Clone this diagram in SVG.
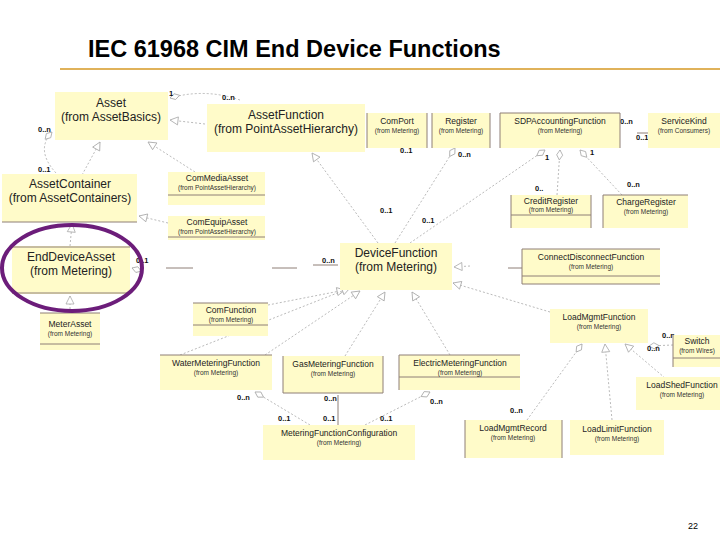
<svg xmlns="http://www.w3.org/2000/svg" width="720" height="540" viewBox="0 0 720 540">
<defs>
<style>
.bx{fill:#FFFBC9;stroke:none}
.ln{stroke:#8E7F76;stroke-width:1;fill:none}
.dl{stroke:#A8A8A8;stroke-width:0.8;stroke-dasharray:2,2;fill:none}
.sl{stroke:#8E7F76;stroke-width:1;fill:none}
.t1{font-family:"Liberation Sans",Arial,sans-serif;font-size:12px;fill:#222;text-anchor:middle}
.t2{font-family:"Liberation Sans",Arial,sans-serif;font-size:8.5px;fill:#222;text-anchor:middle}
.t3{font-family:"Liberation Sans",Arial,sans-serif;font-size:6.5px;fill:#333;text-anchor:middle}
.m{font-family:"Liberation Sans",Arial,sans-serif;font-size:7.5px;fill:#111;font-weight:bold}
</style>
<marker id="tri" markerWidth="10" markerHeight="10" refX="9" refY="5" orient="auto" markerUnits="userSpaceOnUse">
<path d="M1,1 L9,5 L1,9 Z" fill="#fff" stroke="#A8A8A8" stroke-width="0.8"/>
</marker>
<marker id="dia" markerWidth="12" markerHeight="8" refX="11" refY="4" orient="auto" markerUnits="userSpaceOnUse">
<path d="M1,4 L6,1 L11,4 L6,7 Z" fill="#fff" stroke="#A8A8A8" stroke-width="0.8"/>
</marker>
</defs>
<rect width="720" height="540" fill="#fff"/>
<text x="88" y="57" font-family="Liberation Sans,Arial,sans-serif" font-size="23.5" font-weight="bold" fill="#000">IEC 61968 CIM End Device Functions</text>
<line x1="60" y1="69" x2="720" y2="69" stroke="#E0B25A" stroke-width="2"/>

<g id="connectors">
<path class="dl" d="M240,100 Q205,88 170,98" marker-end="url(#dia)"/>
<path class="dl" d="M205,124 L170,120" marker-end="url(#tri)"/>
<path class="dl" d="M56,173 Q35,150 52,132" marker-end="url(#dia)"/>
<path class="dl" d="M82,175 L100,142" marker-end="url(#tri)"/>
<path class="dl" d="M195,172 L148,142" marker-end="url(#tri)"/>
<path class="dl" d="M168,223 L139,216" marker-end="url(#tri)"/>
<path class="dl" d="M70,246 L72,224" marker-end="url(#tri)"/>
<path class="dl" d="M70,313 L70,296" marker-end="url(#tri)"/>
<path class="dl" d="M138,270 L132,268" marker-end="url(#dia)"/>
<line class="sl" x1="166" y1="268" x2="193" y2="268"/>
<line class="sl" x1="272" y1="268" x2="297" y2="268"/>
<line class="sl" x1="313" y1="265" x2="338" y2="265"/>
<path class="dl" d="M378,243 L312,153" marker-end="url(#tri)"/>
<path class="dl" d="M395,243 L455,148" marker-end="url(#dia)"/>
<path class="dl" d="M410,243 L545,150" marker-end="url(#dia)"/>
<path class="dl" d="M557,195 L560,150" marker-end="url(#dia)"/>
<path class="dl" d="M622,195 L580,150" marker-end="url(#dia)"/>
<line class="sl" x1="637" y1="133" x2="648" y2="133"/>
<line class="sl" x1="508" y1="268" x2="522" y2="268"/>
<path class="dl" d="M470,266 L454,267" marker-end="url(#tri)"/>
<path class="dl" d="M550,312 L453,283" marker-end="url(#tri)"/>
<path class="dl" d="M268,305 L345,290" marker-end="url(#tri)"/>
<path class="dl" d="M180,355 L350,288" marker-end="url(#tri)"/>
<path class="dl" d="M265,355 L360,291" marker-end="url(#tri)"/>
<path class="dl" d="M345,356 L385,292" marker-end="url(#tri)"/>
<path class="dl" d="M450,355 L412,292" marker-end="url(#tri)"/>
<path class="dl" d="M310,425 L255,392" marker-end="url(#dia)"/>
<path class="sl" d="M338,425 L338,395"/>
<path class="dl" d="M365,425 L430,392" marker-end="url(#dia)"/>
<path class="dl" d="M527,420 L582,344" marker-end="url(#dia)"/>
<path class="dl" d="M612,420 L605,344" marker-end="url(#tri)"/>
<path class="dl" d="M665,378 L625,344" marker-end="url(#tri)"/>
<path class="dl" d="M673,345 L649,346" marker-end="url(#dia)"/>
</g>

<g id="labels">
<text class="m" x="169" y="96">1</text>
<text class="m" x="222" y="100">0..n</text>
<text class="m" x="38" y="132">0..n</text>
<text class="m" x="38" y="172">0..1</text>
<text class="m" x="136" y="263">0..1</text>
<text class="m" x="322" y="263">0..n</text>
<text class="m" x="400" y="153">0..1</text>
<text class="m" x="458" y="157">0..n</text>
<text class="m" x="380" y="213">0..1</text>
<text class="m" x="422" y="223">0..1</text>
<text class="m" x="545" y="160">1</text>
<text class="m" x="535" y="191">0..</text>
<text class="m" x="590" y="155">1</text>
<text class="m" x="627" y="187">0..n</text>
<text class="m" x="620" y="124">0..n</text>
<text class="m" x="636" y="140">0..1</text>
<text class="m" x="567" y="340">0..1</text>
<text class="m" x="662" y="338">0..n</text>
<text class="m" x="647" y="351">0..n</text>
<text class="m" x="237" y="400">0..n</text>
<text class="m" x="278" y="421">0..1</text>
<text class="m" x="324" y="401">0..n</text>
<text class="m" x="323" y="421">0..1</text>
<text class="m" x="380" y="421">0..1</text>
<text class="m" x="430" y="404">0..n</text>
<text class="m" x="510" y="413">0..n</text>
</g>

<g id="Asset"><rect class="bx" x="55" y="92" width="113" height="48"/><text class="t1" x="111" y="107">Asset</text><text class="t1" x="111" y="121">(from AssetBasics)</text></g>
<g id="AssetFunction"><rect class="bx" x="207" y="104" width="158" height="48"/><text class="t1" x="286" y="119">AssetFunction</text><text class="t1" x="286" y="133">(from PointAssetHierarchy)</text></g>
<g id="ComPort"><rect class="bx" x="367" y="113" width="60" height="35"/><line class="ln" x1="367" y1="113" x2="367" y2="148"/><line class="ln" x1="427" y1="113" x2="427" y2="148"/><text class="t2" x="397" y="124">ComPort</text><text class="t3" x="397" y="133">(from Metering)</text></g>
<g id="Register"><rect class="bx" x="432" y="113" width="58" height="35"/><line class="ln" x1="432" y1="113" x2="432" y2="148"/><line class="ln" x1="490" y1="113" x2="490" y2="148"/><text class="t2" x="461" y="124">Register</text><text class="t3" x="461" y="133">(from Metering)</text></g>
<g id="SDPAccountingFunction"><rect class="bx" x="500" y="113" width="120" height="35"/><line class="ln" x1="500" y1="113" x2="620" y2="113"/><line class="ln" x1="500" y1="113" x2="500" y2="148"/><line class="ln" x1="620" y1="113" x2="620" y2="148"/><text class="t2" x="560" y="124">SDPAccountingFunction</text><text class="t3" x="560" y="133">(from Metering)</text></g>
<g id="ServiceKind"><rect class="bx" x="648" y="113" width="72" height="35"/><text class="t2" x="684" y="124">ServiceKind</text><text class="t3" x="684" y="133">(from Consumers)</text></g>
<g id="CreditRegister"><rect class="bx" x="511" y="195" width="80" height="33"/><line class="ln" x1="511" y1="215" x2="591" y2="215"/><line class="ln" x1="511" y1="195" x2="511" y2="228"/><line class="ln" x1="591" y1="195" x2="591" y2="228"/><text class="t2" x="551" y="204">CreditRegister</text><text class="t3" x="551" y="212">(from Metering)</text></g>
<g id="ChargeRegister"><rect class="bx" x="603" y="195" width="85" height="33"/><line class="ln" x1="603" y1="195" x2="688" y2="195"/><line class="ln" x1="603" y1="195" x2="603" y2="228"/><text class="t2" x="646" y="205">ChargeRegister</text><text class="t3" x="646" y="214">(from Metering)</text></g>
<g id="ComMediaAsset"><rect class="bx" x="168" y="172" width="97" height="33"/><line class="ln" x1="168" y1="195" x2="265" y2="195"/><text class="t2" x="217" y="181">ComMediaAsset</text><text class="t3" x="217" y="190">(from PointAssetHierarchy)</text></g>
<g id="ComEquipAsset"><rect class="bx" x="168" y="216" width="97" height="24"/><line class="ln" x1="168" y1="237" x2="265" y2="237"/><text class="t2" x="217" y="225">ComEquipAsset</text><text class="t3" x="217" y="234">(from PointAssetHierarchy)</text></g>
<g id="AssetContainer"><rect class="bx" x="2" y="174" width="135" height="48"/><line class="ln" x1="2" y1="222" x2="137" y2="222"/><text class="t1" x="70" y="188">AssetContainer</text><text class="t1" x="70" y="202">(from AssetContainers)</text></g>
<g id="EndDeviceAsset"><rect class="bx" x="12" y="246" width="118" height="48"/><line class="ln" x1="12" y1="247" x2="130" y2="247"/><line class="ln" x1="12" y1="293" x2="130" y2="293"/><text class="t1" x="71" y="261">EndDeviceAsset</text><text class="t1" x="71" y="275">(from Metering)</text></g>
<g id="MeterAsset"><rect class="bx" x="40" y="313" width="60" height="37"/><line class="ln" x1="40" y1="313" x2="100" y2="313"/><line class="ln" x1="40" y1="344" x2="100" y2="344"/><text class="t2" x="70" y="327">MeterAsset</text><text class="t3" x="70" y="336">(from Metering)</text></g>
<g id="DeviceFunction"><rect class="bx" x="340" y="243" width="112" height="47" stroke="#8E7F76" stroke-width="1"/><text class="t1" x="396" y="257">DeviceFunction</text><text class="t1" x="396" y="271">(from Metering)</text></g>
<g id="ConnectDisconnectFunction"><rect class="bx" x="522" y="249" width="138" height="35"/><line class="ln" x1="522" y1="249" x2="660" y2="249"/><line class="ln" x1="522" y1="276" x2="660" y2="276"/><line class="ln" x1="522" y1="284" x2="660" y2="284"/><line class="ln" x1="522" y1="249" x2="522" y2="284"/><text class="t2" x="591" y="260">ConnectDisconnectFunction</text><text class="t3" x="591" y="269">(from Metering)</text></g>
<g id="ComFunction"><rect class="bx" x="193" y="303" width="75" height="33"/><line class="ln" x1="193" y1="303" x2="268" y2="303"/><line class="ln" x1="193" y1="325" x2="268" y2="325"/><text class="t2" x="231" y="313">ComFunction</text><text class="t3" x="231" y="322">(from Metering)</text></g>
<g id="LoadMgmtFunction"><rect class="bx" x="550" y="309" width="98" height="34" stroke="#8E7F76" stroke-width="1"/><text class="t2" x="599" y="320">LoadMgmtFunction</text><text class="t3" x="599" y="329">(from Metering)</text></g>
<g id="Switch"><rect class="bx" x="673" y="335" width="47" height="32"/><line class="ln" x1="673" y1="335" x2="673" y2="367"/><line class="ln" x1="673" y1="358" x2="720" y2="358"/><text class="t2" x="697" y="344">Switch</text><text class="t3" x="697" y="353">(from Wires)</text></g>
<g id="LoadShedFunction"><rect class="bx" x="636" y="377" width="84" height="33"/><text class="t2" x="682" y="388">LoadShedFunction</text><text class="t3" x="682" y="397">(from Metering)</text></g>
<g id="WaterMeteringFunction"><rect class="bx" x="160" y="355" width="112" height="35"/><line class="ln" x1="160" y1="355" x2="272" y2="355"/><text class="t2" x="216" y="366">WaterMeteringFunction</text><text class="t3" x="216" y="375">(from Metering)</text></g>
<g id="GasMeteringFunction"><rect class="bx" x="283" y="356" width="100" height="37"/><line class="ln" x1="283" y1="356" x2="283" y2="393"/><line class="ln" x1="383" y1="356" x2="383" y2="393"/><line class="ln" x1="283" y1="393" x2="383" y2="393"/><text class="t2" x="333" y="367">GasMeteringFunction</text><text class="t3" x="333" y="376">(from Metering)</text></g>
<g id="ElectricMeteringFunction"><rect class="bx" x="399" y="355" width="121" height="35"/><line class="ln" x1="399" y1="355" x2="520" y2="355"/><line class="ln" x1="399" y1="377" x2="520" y2="377"/><line class="ln" x1="399" y1="355" x2="399" y2="390"/><text class="t2" x="460" y="366">ElectricMeteringFunction</text><text class="t3" x="460" y="375">(from Metering)</text></g>
<g id="MeteringFunctionConfiguration"><rect class="bx" x="263" y="425" width="152" height="35"/><text class="t2" x="339" y="436">MeteringFunctionConfiguration</text><text class="t3" x="339" y="445">(from Metering)</text></g>
<g id="LoadMgmtRecord"><rect class="bx" x="465" y="420" width="97" height="38"/><line class="ln" x1="465" y1="420" x2="465" y2="458"/><line class="ln" x1="562" y1="420" x2="562" y2="458"/><text class="t2" x="513" y="431">LoadMgmtRecord</text><text class="t3" x="513" y="440">(from Metering)</text></g>
<g id="LoadLimitFunction"><rect class="bx" x="570" y="420" width="94" height="35"/><text class="t2" x="617" y="432">LoadLimitFunction</text><text class="t3" x="617" y="441">(from Metering)</text></g>

<ellipse cx="72" cy="268" rx="70" ry="43" fill="none" stroke="#6C1D7A" stroke-width="4"/>
<text x="688" y="529" font-family="Liberation Sans,Arial,sans-serif" font-size="9" fill="#000">22</text>
</svg>
